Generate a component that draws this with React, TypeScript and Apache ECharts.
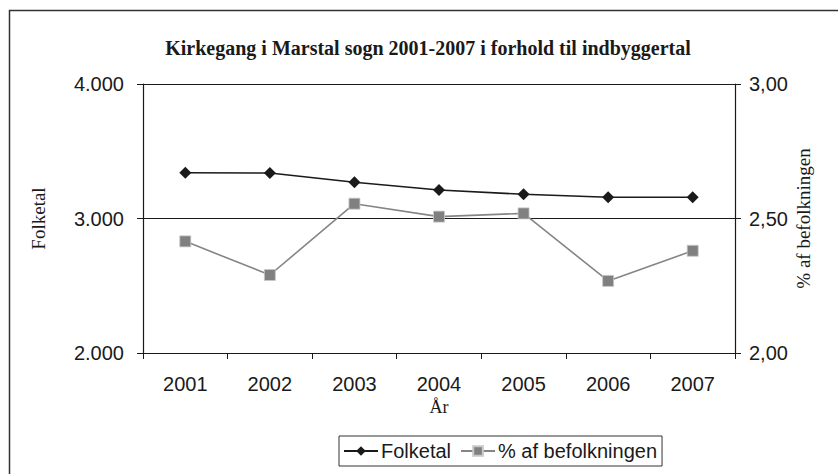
import React, { useEffect, useRef } from "react";
import * as echarts from "echarts";

const years = ["2001", "2002", "2003", "2004", "2005", "2006", "2007"];
const folketal = [3340, 3338, 3270, 3212, 3180, 3158, 3158];
const pctBefolkning = [2.415, 2.29, 2.555, 2.507, 2.519, 2.268, 2.38];
const leftTicks = { min: 2000, max: 4000, interval: 1000 };
const rightTicks = { min: 2, max: 3, interval: 0.5 };

const TITLE = "Kirkegang i Marstal sogn 2001-2007 i forhold til indbyggertal";
const SANS = "Liberation Sans, Arial, sans-serif";
const SERIF = "Liberation Serif, Times New Roman, serif";

export default function App() {
  const ref = useRef<HTMLDivElement>(null);
  useEffect(() => {
    document.body.style.margin = "0";
    if (!ref.current) return;
    const chart = echarts.init(ref.current, undefined, { renderer: "svg" });
    chart.setOption({
      animation: false,
      backgroundColor: "#ffffff",
      title: {
        text: TITLE,
        left: 423,
        textAlign: "center",
        top: 33,
        textStyle: { fontFamily: SERIF, fontWeight: "bold", fontSize: 20, color: "#1a1a1a" },
      },
      graphic: [
        {
          type: "rect",
          shape: { x: 9.5, y: 10.5, width: 840, height: 470 },
          style: { fill: "none", stroke: "#333", lineWidth: 1.5 },
          silent: true,
        },
      ],
      legend: {
        left: 339,
        top: 436,
        padding: [5, 5, 5, 4],
        itemGap: 9,
        itemWidth: 34,
        itemHeight: 12,
        borderColor: "#333",
        borderWidth: 1,
        textStyle: { fontFamily: SANS, fontSize: 20, color: "#1a1a1a", padding: [0, 0, 0, -2] },
        data: ["Folketal", "% af befolkningen"],
      },
      grid: { left: 143, right: 103, top: 84, bottom: 121 },
      xAxis: {
        type: "category",
        data: years,
        boundaryGap: true,
        name: "År",
        nameLocation: "middle",
        nameGap: 45,
        nameMoveOverlap: false,
        nameTextStyle: { fontFamily: SERIF, fontSize: 18, color: "#1a1a1a" },
        axisLine: { lineStyle: { color: "#1a1a1a", width: 1.2 } },
        axisTick: { show: true, length: 6, lineStyle: { color: "#1a1a1a" } },
        axisLabel: { fontFamily: SANS, fontSize: 20, color: "#1a1a1a", margin: 21 },
        splitLine: { show: false },
      },
      yAxis: [
        {
          type: "value",
          min: leftTicks.min,
          max: leftTicks.max,
          interval: leftTicks.interval,
          name: "Folketal",
          nameLocation: "middle",
          nameGap: 95,
          nameRotate: 90,
          nameMoveOverlap: false,
          nameTextStyle: { fontFamily: SERIF, fontSize: 19, color: "#1a1a1a" },
          axisLine: { show: true, lineStyle: { color: "#1a1a1a", width: 1.2 } },
          axisTick: { show: true, length: 6, lineStyle: { color: "#1a1a1a" } },
          axisLabel: {
            fontFamily: SANS,
            fontSize: 20,
            color: "#1a1a1a",
            margin: 19,
            formatter: (v: number) => String(v).replace(/\B(?=(\d{3})+(?!\d))/g, "."),
          },
          splitLine: { show: true, lineStyle: { color: "#1a1a1a", width: 1 } },
        },
        {
          type: "value",
          min: rightTicks.min,
          max: rightTicks.max,
          interval: rightTicks.interval,
          position: "right",
          name: "% af befolkningen",
          nameLocation: "middle",
          nameGap: 59,
          nameRotate: 90,
          nameMoveOverlap: false,
          nameTextStyle: { fontFamily: SERIF, fontSize: 19, color: "#1a1a1a" },
          axisLine: { show: true, lineStyle: { color: "#1a1a1a", width: 1.2 } },
          axisTick: { show: true, length: 6, lineStyle: { color: "#1a1a1a" } },
          axisLabel: {
            fontFamily: SANS,
            fontSize: 20,
            color: "#1a1a1a",
            margin: 14,
            formatter: (v: number) => v.toFixed(2).replace(".", ","),
          },
          splitLine: { show: false },
        },
      ],
      series: [
        {
          name: "Folketal",
          type: "line",
          yAxisIndex: 0,
          data: folketal,
          symbol: "diamond",
          symbolSize: 12,
          lineStyle: { color: "#1a1a1a", width: 1.6 },
          itemStyle: { color: "#1a1a1a" },
        },
        {
          name: "% af befolkningen",
          type: "line",
          yAxisIndex: 1,
          data: pctBefolkning,
          symbol: "rect",
          symbolSize: 11,
          lineStyle: { color: "#858585", width: 1.6 },
          itemStyle: { color: "#808080", borderColor: "#c8c8c8", borderWidth: 0.8 },
        },
      ],
    });
    return () => chart.dispose();
  }, []);
  return <div ref={ref} style={{ width: 838, height: 474 }} />;
}
